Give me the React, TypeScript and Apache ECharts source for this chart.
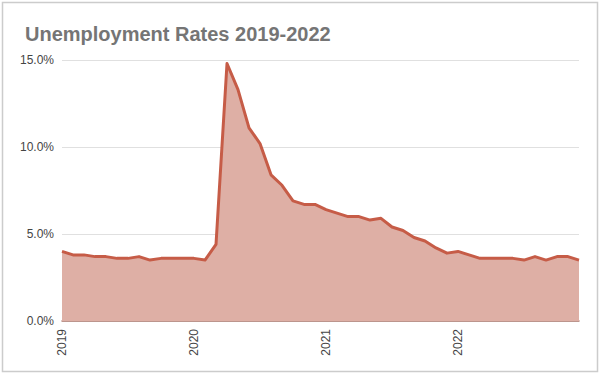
import React, { useEffect, useRef } from "react";
import * as echarts from "echarts";

const years = ["2019", "2020", "2021", "2022"];
const months = ["Jan", "Feb", "Mar", "Apr", "May", "Jun", "Jul", "Aug", "Sep", "Oct", "Nov", "Dec"];
const rates2019 = [4.0, 3.8, 3.8, 3.7, 3.7, 3.6, 3.6, 3.7, 3.5, 3.6, 3.6, 3.6];
const rates2020 = [3.6, 3.5, 4.4, 14.8, 13.3, 11.1, 10.2, 8.4, 7.8, 6.9, 6.7, 6.7];
const rates2021 = [6.4, 6.2, 6.0, 6.0, 5.8, 5.9, 5.4, 5.2, 4.8, 4.6, 4.2, 3.9];
const rates2022 = [4.0, 3.8, 3.6, 3.6, 3.6, 3.6, 3.5, 3.7, 3.5, 3.7, 3.7, 3.5];
const yTicks = [0, 5, 10, 15];

const categories: string[] = [];
years.forEach((y) => months.forEach((m) => categories.push(m + " " + y)));
const values = [...rates2019, ...rates2020, ...rates2021, ...rates2022];

export default function App() {
  const ref = useRef<HTMLDivElement>(null);
  useEffect(() => {
    document.body.style.margin = "0";
    const chart = echarts.init(ref.current!, null, { renderer: "svg" });
    const font = "Arial, 'Liberation Sans', sans-serif";
    chart.setOption({
      animation: false,
      textStyle: { fontFamily: font },
      title: {
        text: "Unemployment Rates 2019-2022",
        left: 20,
        top: 19,
        textStyle: { fontSize: 20, fontWeight: "bold", color: "#757575", fontFamily: font },
      },
      graphic: [
        {
          type: "rect",
          shape: { x: 2.5, y: 2.5, width: 595, height: 369 },
          style: { fill: "none", stroke: "#cccccc", lineWidth: 1.5 },
          silent: true,
        },
      ],
      grid: { left: 62, right: 21, top: 60, bottom: 53, containLabel: false },
      xAxis: {
        type: "category",
        data: categories,
        boundaryGap: false,
        axisLine: { show: true, lineStyle: { color: "#b07c72", width: 1.5 } },
        axisTick: { show: false },
        axisLabel: {
          rotate: 90,
          margin: 8,
          color: "#444444",
          fontSize: 12,
          interval: (idx: number) => idx % 12 === 0,
          formatter: (v: string) => v.split(" ")[1],
        },
        splitLine: { show: false },
      },
      yAxis: {
        type: "value",
        min: yTicks[0],
        max: yTicks[yTicks.length - 1],
        interval: 5,
        axisLine: { show: false },
        axisTick: { show: false },
        axisLabel: {
          margin: 8,
          color: "#444444",
          fontSize: 12,
          formatter: (v: number) => v.toFixed(1) + "%",
        },
        splitLine: { lineStyle: { color: "#e0e0e0", width: 1 } },
      },
      series: [
        {
          type: "line",
          data: values,
          symbol: "none",
          lineStyle: { color: "#c65c47", width: 3, join: "round" },
          itemStyle: { color: "#c65c47" },
          areaStyle: { color: "#deafa5", opacity: 1 },
        },
      ],
    });
    return () => chart.dispose();
  }, []);
  return <div ref={ref} style={{ width: 600, height: 374 }} />;
}
